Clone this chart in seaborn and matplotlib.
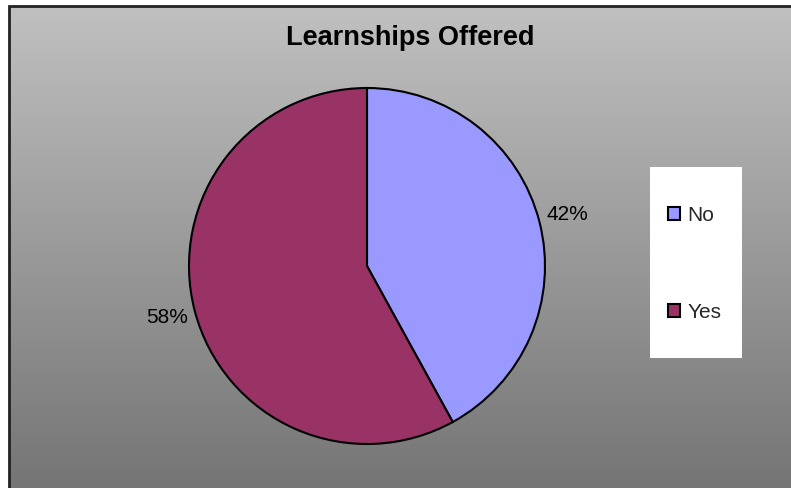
import numpy as np
import matplotlib
matplotlib.use("Agg")
import matplotlib.pyplot as plt
import seaborn as sns
from matplotlib.patches import Rectangle

sns.set_theme(style="white")
plt.rcParams["font.family"] = ["Liberation Sans", "DejaVu Sans"]

# Data
categories = ["No", "Yes"]
shares = [42, 58]
colors = ["#9999FF", "#993366"]
title = "Learnships Offered"

W, H = 791, 488
fig = plt.figure(figsize=(W / 100, H / 100), dpi=100)
fig.patch.set_facecolor("white")

# Background panel with a vertical grey gradient and a dark frame
bg = fig.add_axes([10 / W, 0, 1 - 10 / W, 1 - 7 / H])
grad = np.linspace(192, 117, 256).reshape(-1, 1) / 255.0
bg.imshow(np.dstack([grad, grad, grad]), aspect="auto", extent=[0, 1, 0, 1])
bg.set_xlim(0, 1)
bg.set_ylim(0, 1)
bg.axis("off")
fig.add_artist(Rectangle((9 / W, -0.01), 1.0, 1 - 6 / H + 0.01,
                         transform=fig.transFigure, fill=False,
                         edgecolor="#222222", linewidth=2.0))

# Pie
cx, cy, r = 367, 266, 178
ax = fig.add_axes([(cx - r) / W, (H - cy - r) / H, 2 * r / W, 2 * r / H])
wedges, texts, autotexts = ax.pie(
    shares, colors=colors, startangle=90, counterclock=False,
    autopct="%.0f%%", pctdistance=1.16,
    wedgeprops=dict(edgecolor="black", linewidth=1.5),
    textprops=dict(fontsize=15, color="black"),
)
ax.set_xlim(-1, 1)
ax.set_ylim(-1, 1)
ax.set_aspect("equal")
ax.axis("off")

# Title
fig.text(410 / W, 1 - 38 / H, title, ha="center", va="center",
         fontsize=19.5, fontweight="bold", color="black")

# Legend on a white panel
fig.add_artist(Rectangle((650 / W, 1 - 358 / H), 92 / W, 191 / H,
                         transform=fig.transFigure, facecolor="white",
                         edgecolor="none"))
fig.legend(wedges, categories, loc="center left",
           bbox_to_anchor=(658 / W, 1 - 264 / H), frameon=False,
           fontsize=15, handlelength=0.55, handleheight=0.55,
           handletextpad=0.35, labelspacing=3.75, borderpad=0)

fig.savefig("out.png", dpi=100)
